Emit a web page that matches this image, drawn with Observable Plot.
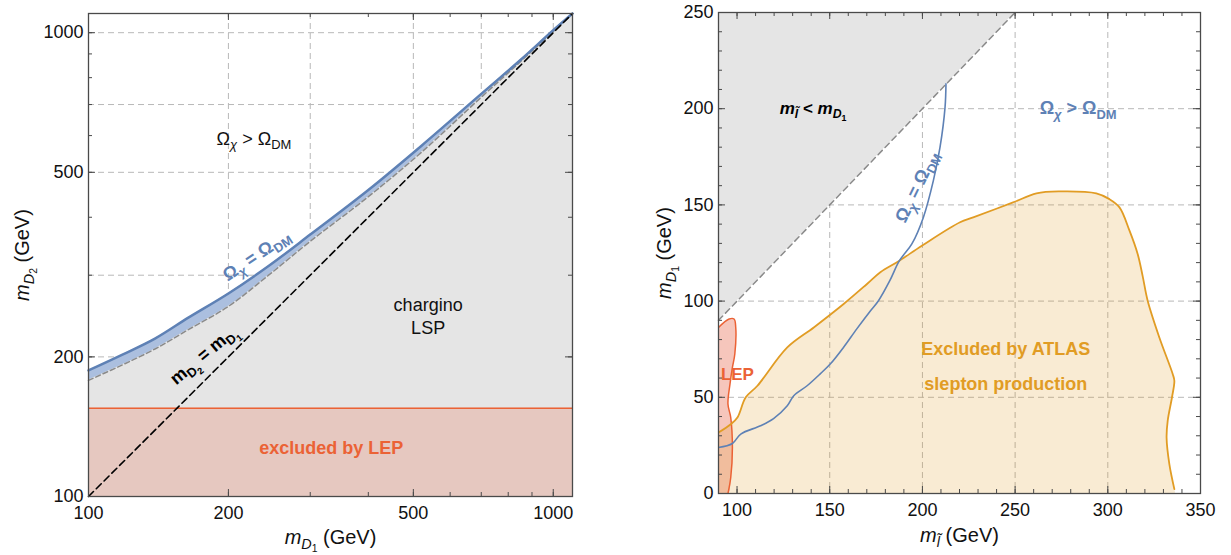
<!DOCTYPE html>
<html><head><meta charset="utf-8">
<script src="https://cdn.jsdelivr.net/npm/d3@7"></script>
<script src="https://cdn.jsdelivr.net/npm/@observablehq/plot@0.6"></script>
<style>
body{margin:0;background:#fff;}
#wrap{position:relative;width:1231px;height:555px;overflow:hidden;}
#left{position:absolute;left:0;top:0;width:620px;height:555px;}
#right{position:absolute;left:620px;top:0;width:611px;height:555px;}
</style></head><body>
<div id="wrap"><div id="left"></div><div id="right"></div></div>
<script>
// ---------------- Left panel data (log-log, GeV) ----------------
const leftDomain = [100, 1100];
const leftTickValues = [100, 200, 500, 1000];
const leftMinorTicks = [100, 200, 300, 400, 500, 600, 700, 800, 900, 1000];
const leftGridValues = [200, 300, 500, 700, 1000];
const relicMassD1  = [100, 118, 139, 164, 200, 244, 300, 400, 520, 700, 850, 1000, 1100];
const relicUpperD2 = [187, 202, 219, 243, 274, 314, 367, 458, 570, 738, 873, 1012, 1100];
const relicLowerD2 = [178, 192, 208, 229, 257, 300, 355, 443, 552, 726, 866, 1006, 1100];
const lepLimitD2 = 155;

// ---------------- Right panel data (linear, GeV) ----------------
const rightXDomain = [90, 350];
const rightYDomain = [0, 250];
const sleptonTicks = [100, 150, 200, 250, 300, 350];
const d1Ticks = [0, 50, 100, 150, 200, 250];
const rightGridX = [150, 200, 250, 300];
const rightGridY = [50, 100, 150, 200];
const rightDiagonal = [90, 250];
const relicSlepton = [90, 97.5, 102, 112.7, 119.7, 127.1, 130.6, 137.8, 145, 150.4, 157.4, 164.7, 171.9, 176.3, 182.4, 187.6, 194.3, 200.5, 205.9, 209.5, 212.2, 212.7];
const relicD1      = [23.9, 26, 30.9, 35.2, 38.9, 45.6, 50.8, 56, 62.3, 67.4, 75.9, 85.7, 94.9, 100.2, 110.6, 121, 129.7, 143.5, 162.6, 180, 200.7, 212.9];
const atlasSlepton = [90, 96.6, 100.2, 104.7, 111, 127.1, 141.4, 157.5, 170.1, 177.3, 187.6, 199.7, 220.3, 227.4, 248.9, 261.5, 274, 293.8, 300.9, 306.3, 311.7, 316.1, 318.8, 321.5, 327.8, 335, 335.9, 334.6, 332.3, 331.7, 333.2, 335.9];
const atlasD1      = [31.7, 36, 39.5, 50, 56, 75.9, 86.3, 98.5, 108.9, 115, 121, 128.8, 141, 143.5, 151.3, 156, 157, 156, 153, 148.7, 136.6, 124.5, 113, 100.2, 81.1, 62.1, 58.6, 49.9, 37.8, 29.1, 15.3, 2.3];
const lepSlepton   = [90, 95.7, 98.4, 99.3, 98.8, 97.5, 96.2, 95.1, 96.6, 97.5, 96.6, 95.1];
const lepD1        = [86.3, 90.7, 90.7, 86.3, 72.5, 65.5, 56.9, 46.5, 39.5, 23.9, 8.3, 0];

// ---------------- styling ----------------
const FONT = "'Liberation Sans', Arial, Helvetica, sans-serif";
const frameColor = "#4a4a4a";
const grid = {stroke: "#b8b8b8", strokeWidth: 1, strokeDasharray: "6,4"};
const BLUE = "#5E81B5", ORANGE = "#E19C24", RED = "#EB6235";

function frameTicksXY(xv, yv, len, pw, ph) {
  const s = {stroke: frameColor, strokeWidth: 1};
  return [
    Plot.ruleX(xv, {...s, insetTop: ph - len}),
    Plot.ruleX(xv, {...s, insetBottom: ph - len}),
    Plot.ruleY(yv, {...s, insetRight: pw - len}),
    Plot.ruleY(yv, {...s, insetLeft: pw - len})
  ];
}

// ---------------- left plot ----------------
const W1 = 620, H = 555, mL1 = 88, mR1 = 48, mT1 = 13, mB1 = 59;
const pw1 = W1 - mL1 - mR1, ph1 = H - mT1 - mB1;
const relic = relicMassD1.map((x, i) => ({x, hi: relicUpperD2[i], lo: relicLowerD2[i]}));
const smooth = "catmull-rom";

const leftPlot = Plot.plot({
  width: W1, height: H, marginLeft: mL1, marginRight: mR1, marginTop: mT1, marginBottom: mB1,
  style: {fontFamily: FONT, fontSize: "18px", color: "#111", background: "#fff"},
  x: {type: "log", domain: leftDomain},
  y: {type: "log", domain: leftDomain},
  marks: [
    Plot.ruleX(leftGridValues, grid),
    Plot.ruleY(leftGridValues, grid),
    Plot.areaY(relic, {x: "x", y1: leftDomain[0], y2: "lo", fill: "#e5e5e5", curve: smooth}),
    Plot.areaY(relic, {x: "x", y1: "lo", y2: "hi", fill: "#abbfdf", curve: smooth}),
    Plot.areaY(leftDomain, {x: d => d, y1: leftDomain[0], y2: lepLimitD2, fill: "#e6c8c0"}),
    Plot.ruleY([lepLimitD2], {stroke: RED, strokeWidth: 1.5}),
    Plot.line(relic, {x: "x", y: "lo", stroke: "#8a8a8a", strokeWidth: 1.5, strokeDasharray: "5,3", curve: smooth}),
    Plot.line(relic, {x: "x", y: "hi", stroke: BLUE, strokeWidth: 2.5, curve: smooth}),
    Plot.line(leftDomain, {x: d => d, y: d => d, stroke: "#000", strokeWidth: 1.6, strokeDasharray: "7,4"}),
    Plot.frame({stroke: frameColor, strokeWidth: 1.3}),
    ...frameTicksXY(leftMinorTicks, leftMinorTicks, 4, pw1, ph1),
    ...frameTicksXY(leftTickValues, leftTickValues, 7, pw1, ph1),
    Plot.axisX({ticks: leftTickValues, tickSize: 0, tickPadding: 10, tickFormat: d => String(d), label: null, fontSize: 18}),
    Plot.axisY({ticks: leftTickValues, tickSize: 0, tickPadding: 5, tickFormat: d => String(d), label: null, fontSize: 18}),
    Plot.text(["Ω_{*χ*} > Ω_{DM}"], {x: 227, y: 590, fontSize: 18, fill: "#111"}),
    Plot.text(["Ω_{*χ*} = Ω_{DM}"], {x: 229.7, y: 331, fontSize: 18, fontWeight: "bold", fill: BLUE, rotate: -34}),
    Plot.text(["m_{D_{2}} = m_{D_{1}}"], {x: 177, y: 202, fontSize: 18, fontWeight: "bold", fill: "#000", rotate: -40}),
    Plot.text(["chargino\nLSP"], {x: 538, y: 246, fontSize: 18, fill: "#111", lineHeight: 1.3}),
    Plot.text(["excluded by LEP"], {x: 333, y: 127, fontSize: 18, fontWeight: "bold", fill: RED}),
    Plot.text(["*m*_{*D*_{1}} (GeV)"], {frameAnchor: "bottom", textAnchor: "middle", lineAnchor: "middle", dy: 41, fontSize: 20, fill: "#111"}),
    Plot.text(["*m*_{*D*_{2}} (GeV)"], {frameAnchor: "left", textAnchor: "middle", lineAnchor: "middle", dx: -66, rotate: -90, fontSize: 20, fill: "#111"})
  ]
});

// ---------------- right plot ----------------
const W2 = 611, mL2 = 98, mR2 = 31, mT2 = 12, mB2 = 62;
const pw2 = W2 - mL2 - mR2, ph2 = H - mT2 - mB2;
const relicR = relicSlepton.map((x, i) => ({x, y: relicD1[i]}));
const atlas = atlasSlepton.map((x, i) => ({x, y: atlasD1[i]}));
const atlasPoly = atlas.concat([{x: atlas[atlas.length - 1].x, y: rightYDomain[0]}, {x: rightXDomain[0], y: rightYDomain[0]}]);
const lep = lepSlepton.map((x, i) => ({x, y: lepD1[i]}));
const lepPoly = lep.concat([{x: rightXDomain[0], y: rightYDomain[0]}]);
const minorX = d3.range(90, 351, 10);
const minorY = d3.range(0, 251, 10);

const rightPlot = Plot.plot({
  width: W2, height: H, marginLeft: mL2, marginRight: mR2, marginTop: mT2, marginBottom: mB2,
  style: {fontFamily: FONT, fontSize: "18px", color: "#111", background: "#fff"},
  x: {domain: rightXDomain},
  y: {domain: rightYDomain},
  marks: [
    Plot.ruleX(rightGridX, grid),
    Plot.ruleY(rightGridY, grid),
    Plot.areaY(rightDiagonal, {x: d => d, y1: d => d, y2: rightYDomain[1], fill: "#e5e5e5"}),
    Plot.line(rightDiagonal, {x: d => d, y: d => d, stroke: "#8a8a8a", strokeWidth: 1.5, strokeDasharray: "6,4"}),
    Plot.line(lepPoly, {x: "x", y: "y", fill: "#f6c6bc", stroke: "none", curve: smooth, clip: true}),
    Plot.line(atlasPoly, {x: "x", y: "y", fill: ORANGE, fillOpacity: 0.2, stroke: "none", curve: smooth, clip: true}),
    Plot.line(lep, {x: "x", y: "y", stroke: RED, strokeWidth: 1.5, curve: smooth, clip: true}),
    Plot.line(atlas, {x: "x", y: "y", stroke: ORANGE, strokeWidth: 1.8, curve: smooth, clip: true}),
    Plot.line(relicR, {x: "x", y: "y", stroke: BLUE, strokeWidth: 1.6, curve: smooth, clip: true}),
    Plot.frame({stroke: frameColor, strokeWidth: 1.3}),
    ...frameTicksXY(minorX, minorY, 4, pw2, ph2),
    ...frameTicksXY(sleptonTicks, d1Ticks, 7, pw2, ph2),
    Plot.axisX({ticks: sleptonTicks, tickSize: 0, tickPadding: 10, tickFormat: d => String(d), label: null, fontSize: 18}),
    Plot.axisY({ticks: d1Ticks, tickSize: 0, tickPadding: 5, tickFormat: d => String(d), label: null, fontSize: 18}),
    Plot.text(["*m*_{*l̃*} < *m*_{*D*_{1}}"], {x: 141, y: 200, fontSize: 17, fontWeight: "bold", fill: "#000"}),
    Plot.text(["Ω_{*χ*} > Ω_{DM}"], {x: 284, y: 200, fontSize: 18, fontWeight: "bold", fill: BLUE}),
    Plot.text(["Ω_{*χ*} = Ω_{DM}"], {x: 197, y: 159.5, fontSize: 18, fontWeight: "bold", fill: BLUE, rotate: -64}),
    Plot.text(["LEP"], {x: 100.2, y: 62, fontSize: 17, fontWeight: "bold", fill: RED}),
    Plot.text(["Excluded by ATLAS"], {x: 245, y: 75, fontSize: 18, fontWeight: "bold", fill: ORANGE}),
    Plot.text(["slepton production"], {x: 245, y: 57, fontSize: 18, fontWeight: "bold", fill: ORANGE}),
    Plot.text(["*m*_{*l̃*} (GeV)"], {frameAnchor: "bottom", textAnchor: "middle", lineAnchor: "middle", dy: 42, fontSize: 20, fill: "#111"}),
    Plot.text(["*m*_{*D*_{1}} (GeV)"], {frameAnchor: "left", textAnchor: "middle", lineAnchor: "middle", dx: -54, rotate: -90, fontSize: 20, fill: "#111"})
  ]
});

document.getElementById("left").appendChild(leftPlot);
document.getElementById("right").appendChild(rightPlot);

// ---------------- rich text: subscripts (_{...}) and italics (*...*) ----------------
function parseRich(s, level, italic, out) {
  let buf = "";
  const flush = () => { if (buf) { out.push({t: buf, level, italic}); buf = ""; } };
  for (let i = 0; i < s.length; i++) {
    const c = s[i];
    if (c === "*") { flush(); italic = !italic; }
    else if (c === "_" && s[i + 1] === "{") {
      flush();
      let depth = 1, j = i + 2;
      while (j < s.length && depth) { if (s[j] === "{") depth++; else if (s[j] === "}") depth--; j++; }
      parseRich(s.slice(i + 2, j - 1), level + 1, italic, out);
      i = j - 1;
    } else buf += c;
  }
  flush();
  return out;
}
function richify(svg) {
  svg.querySelectorAll("text").forEach(el => {
    if (el.querySelector("tspan")) return;
    const s = el.textContent;
    if (!/_\{|\*/.test(s)) return;
    const base = parseFloat(getComputedStyle(el).fontSize) || 18;
    const segs = parseRich(s, 0, false, []);
    const off = l => { let o = 0; for (let k = 1; k <= l; k++) o += 0.24 * base * Math.pow(0.72, k - 1); return o; };
    el.textContent = "";
    let cur = 0;
    segs.forEach(sg => {
      const ts = document.createElementNS("http://www.w3.org/2000/svg", "tspan");
      ts.setAttribute("font-size", (base * Math.pow(0.72, sg.level)).toFixed(2) + "px");
      if (sg.italic) ts.setAttribute("font-style", "italic");
      const target = off(sg.level);
      if (target !== cur) ts.setAttribute("dy", (target - cur).toFixed(2));
      cur = target;
      ts.textContent = sg.t;
      el.appendChild(ts);
    });
  });
}
richify(leftPlot);
richify(rightPlot);
</script>
</body></html>
